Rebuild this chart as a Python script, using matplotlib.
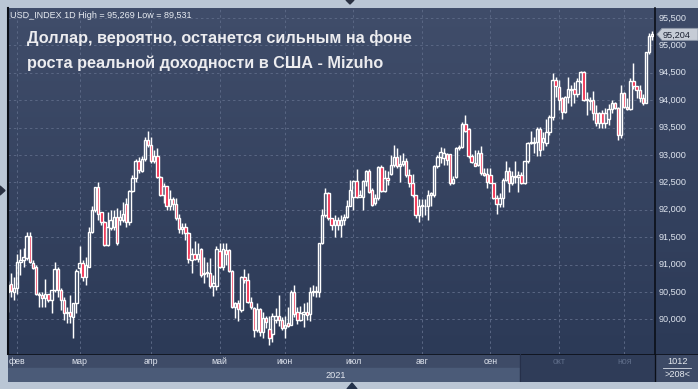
import numpy as np
import pandas as pd
import matplotlib
matplotlib.use("Agg")
import matplotlib.pyplot as plt
from matplotlib.patches import Rectangle, Polygon
from matplotlib.colors import LinearSegmentedColormap

# ---------------- data ----------------
dates = pd.bdate_range("2021-01-27", periods=208)

opens = [90.49, 90.64, 90.49, 90.57, 91.05, 91.09, 91.11, 91.52, 91.03, 90.96,
         90.47, 90.44, 90.38, 90.46, 90.35, 90.54, 90.91, 90.54, 90.35, 90.11,
         90.14, 90.05, 90.29, 90.93, 91.03, 90.78, 90.96, 91.60, 92.00, 92.41,
         91.96, 91.78, 91.36, 91.66, 91.69, 91.87, 91.81, 91.81, 92.10, 91.78,
         92.34, 92.57, 92.88, 92.71, 92.92, 93.28, 93.18, 92.88, 92.98, 92.59,
         92.27, 92.43, 92.06, 92.19, 92.10, 91.84, 91.65, 91.69, 91.57, 91.08,
         91.19, 91.10, 91.28, 90.82, 90.84, 90.85, 90.61, 90.61, 91.25, 90.96,
         91.26, 91.26, 90.88, 90.22, 90.29, 90.17, 90.78, 90.72, 90.32, 90.20,
         89.80, 90.18, 89.76, 90.02, 89.82, 89.74, 89.99, 90.06, 89.99, 89.84,
         89.93, 89.90, 90.49, 90.14, 89.99, 90.10, 90.14, 90.10, 90.49, 90.52,
         90.50, 91.39, 91.90, 92.30, 91.84, 91.72, 91.81, 91.72, 91.81, 91.87,
         92.07, 92.24, 92.52, 92.24, 92.24, 92.52, 92.71, 92.36, 92.12, 92.21,
         92.78, 92.35, 92.57, 92.66, 92.81, 92.97, 92.79, 92.83, 92.89, 92.63,
         92.48, 92.27, 91.90, 92.06, 92.07, 92.06, 92.27, 92.27, 92.79, 92.97,
         92.95, 93.01, 93.01, 92.48, 92.59, 93.12, 93.14, 93.56, 93.48, 92.98,
         92.86, 92.82, 93.04, 92.67, 92.65, 92.63, 92.49, 92.21, 92.10, 92.21,
         92.54, 92.70, 92.49, 92.61, 92.59, 92.63, 92.48, 92.88, 93.22, 93.24,
         93.24, 93.47, 93.24, 93.21, 93.42, 93.70, 94.37, 94.23, 94.03, 93.79,
         94.05, 94.21, 94.21, 94.12, 94.35, 94.52, 94.01, 93.99, 94.00, 93.76,
         93.58, 93.76, 93.59, 93.66, 93.83, 93.94, 93.85, 93.36, 94.13, 93.87,
         93.83, 94.34, 94.25, 94.19, 94.03, 93.94, 94.87, 95.17]

highs = [90.70, 90.84, 90.78, 91.20, 91.28, 91.30, 91.59, 91.59, 91.09, 90.99,
         90.49, 90.50, 90.73, 90.47, 90.54, 91.05, 90.96, 90.57, 90.40, 90.23,
         90.44, 90.29, 90.91, 91.33, 91.08, 91.14, 91.69, 92.06, 92.41, 92.50,
         91.96, 91.80, 91.96, 91.99, 92.00, 92.03, 91.99, 92.14, 92.21, 92.36,
         92.63, 92.92, 92.96, 92.98, 93.33, 93.44, 93.33, 93.09, 93.12, 92.61,
         92.48, 92.43, 92.36, 92.24, 92.21, 91.93, 91.75, 91.75, 91.60, 91.30,
         91.43, 91.39, 91.30, 91.14, 91.05, 91.12, 90.81, 91.33, 91.39, 91.39,
         91.40, 91.28, 90.90, 90.32, 90.35, 90.79, 90.91, 90.84, 90.41, 90.23,
         90.29, 90.20, 90.14, 90.06, 90.06, 90.11, 90.20, 90.44, 90.04, 90.06,
         90.23, 90.54, 90.63, 90.23, 90.24, 90.29, 90.32, 90.59, 90.62, 90.61,
         91.40, 92.02, 92.39, 92.33, 91.84, 91.90, 91.87, 91.90, 91.93, 92.18,
         92.54, 92.54, 92.75, 92.36, 92.55, 92.73, 92.75, 92.39, 92.29, 92.80,
         92.82, 92.72, 92.70, 92.99, 93.18, 93.12, 92.99, 93.03, 92.94, 92.75,
         92.66, 92.27, 92.19, 92.19, 92.19, 92.36, 92.33, 92.82, 93.00, 93.15,
         93.12, 93.03, 93.01, 92.62, 93.15, 93.18, 93.60, 93.72, 93.49, 93.01,
         93.09, 93.09, 93.16, 92.76, 92.76, 92.77, 92.49, 92.27, 92.30, 92.57,
         92.88, 92.78, 92.70, 92.88, 92.71, 92.69, 92.88, 93.24, 93.44, 93.33,
         93.51, 93.51, 93.42, 93.66, 93.73, 94.49, 94.42, 94.37, 94.06, 94.08,
         94.43, 94.27, 94.33, 94.40, 94.54, 94.53, 94.15, 94.06, 94.16, 93.91,
         93.79, 93.82, 93.85, 93.92, 94.00, 93.97, 93.88, 94.27, 94.15, 94.03,
         94.40, 94.67, 94.26, 94.27, 94.12, 94.88, 95.22, 95.27]

lows = [90.14, 90.40, 90.35, 90.46, 90.81, 90.96, 91.08, 91.03, 90.91, 90.44,
        90.23, 90.23, 90.23, 90.32, 90.11, 90.50, 90.41, 90.17, 89.99, 89.93,
        89.93, 89.65, 90.11, 90.84, 90.69, 90.63, 90.96, 91.57, 91.96, 91.81,
        91.72, 91.34, 91.33, 91.63, 91.63, 91.36, 91.72, 91.78, 91.69, 91.72,
        92.33, 92.51, 92.67, 92.69, 92.88, 93.15, 92.86, 92.86, 92.57, 92.25,
        92.12, 92.00, 92.00, 92.00, 91.81, 91.57, 91.55, 91.45, 91.02, 90.84,
        91.08, 91.05, 90.78, 90.66, 90.78, 90.57, 90.43, 90.54, 90.93, 90.90,
        91.00, 90.86, 90.20, 90.02, 89.96, 90.14, 90.66, 90.29, 90.18, 89.68,
        89.76, 89.69, 89.65, 89.85, 89.53, 89.59, 89.93, 89.88, 89.80, 89.65,
        89.86, 89.90, 90.05, 89.91, 89.97, 89.86, 89.99, 89.96, 90.43, 90.41,
        90.41, 91.37, 91.87, 91.81, 91.63, 91.51, 91.63, 91.51, 91.72, 91.85,
        92.06, 92.00, 92.21, 92.24, 92.00, 92.43, 92.30, 92.07, 92.09, 92.18,
        92.33, 92.33, 92.45, 92.63, 92.78, 92.77, 92.50, 92.79, 92.60, 92.42,
        92.24, 91.84, 91.78, 91.87, 91.90, 91.82, 92.06, 92.24, 92.76, 92.85,
        92.82, 92.82, 92.45, 92.46, 92.57, 93.09, 93.12, 93.42, 92.94, 92.85,
        92.79, 92.79, 92.64, 92.61, 92.39, 92.48, 92.19, 91.93, 92.05, 92.05,
        92.53, 92.33, 92.45, 92.48, 92.32, 92.46, 92.46, 92.85, 93.19, 93.03,
        92.98, 92.98, 93.09, 93.16, 93.36, 93.64, 94.06, 93.82, 93.66, 93.76,
        93.94, 93.90, 93.94, 94.06, 94.31, 93.99, 93.73, 93.82, 93.64, 93.52,
        93.49, 93.49, 93.49, 93.55, 93.76, 93.83, 93.27, 93.30, 93.85, 93.82,
        93.82, 94.20, 94.03, 93.97, 93.91, 93.94, 94.85, 95.10]

closes = [90.62, 90.52, 90.57, 91.05, 91.09, 91.14, 91.52, 91.05, 90.93, 90.47,
          90.44, 90.38, 90.46, 90.35, 90.54, 90.91, 90.54, 90.35, 90.11, 90.14,
          90.06, 90.29, 90.89, 91.03, 90.78, 90.99, 91.60, 92.00, 92.41, 91.93,
          91.78, 91.36, 91.69, 91.81, 91.87, 91.40, 91.87, 91.93, 91.78, 92.34,
          92.57, 92.88, 92.73, 92.92, 93.28, 93.18, 92.88, 92.98, 92.59, 92.27,
          92.43, 92.06, 92.19, 92.10, 91.84, 91.65, 91.69, 91.57, 91.10, 91.19,
          91.10, 91.19, 90.81, 90.85, 90.87, 90.61, 90.66, 91.28, 90.96, 91.28,
          91.20, 90.88, 90.22, 90.30, 90.18, 90.78, 90.72, 90.32, 90.22, 89.80,
          90.18, 89.76, 90.02, 89.95, 89.66, 90.06, 90.06, 89.99, 89.84, 89.90,
          89.88, 90.49, 90.10, 89.99, 90.11, 90.14, 90.08, 90.50, 90.52, 90.49,
          91.39, 91.90, 92.30, 91.84, 91.72, 91.81, 91.72, 91.82, 91.87, 92.07,
          92.36, 92.52, 92.24, 92.27, 92.52, 92.71, 92.33, 92.09, 92.21, 92.78,
          92.35, 92.57, 92.55, 92.81, 92.97, 92.79, 92.83, 92.89, 92.63, 92.48,
          92.27, 91.90, 92.07, 92.09, 92.06, 92.27, 92.30, 92.79, 92.97, 93.06,
          93.04, 92.91, 92.48, 92.56, 93.12, 93.14, 93.56, 93.43, 92.98, 92.87,
          92.80, 93.04, 92.67, 92.63, 92.51, 92.49, 92.21, 92.10, 92.21, 92.54,
          92.70, 92.49, 92.61, 92.59, 92.63, 92.48, 92.88, 93.22, 93.24, 93.21,
          93.47, 93.09, 93.30, 93.42, 93.70, 94.37, 94.25, 94.00, 93.79, 94.05,
          94.21, 94.18, 94.12, 94.35, 94.52, 94.01, 94.00, 94.01, 93.76, 93.58,
          93.76, 93.59, 93.76, 93.83, 93.94, 93.85, 93.36, 94.13, 93.87, 93.83,
          94.34, 94.25, 94.19, 94.03, 93.94, 94.87, 95.17, 95.20]

month_labels = ["фев", "мар", "апр", "май", "июн", "июл", "авг", "сен", "окт", "ноя"]
dim_months = ["окт", "ноя"]
price_ticks = [90.0, 90.5, 91.0, 91.5, 92.0, 92.5, 93.0, 93.5, 94.0, 94.5, 95.0, 95.5]
header = "USD_INDEX 1D High = 95,269 Low = 89,531"
title_lines = ["Доллар, вероятно, останется сильным на фоне",
               "роста реальной доходности в США - Mizuho"]
last_label = "95,204"
year_label = "2021"
corner_top, corner_bottom = "1012", ">208<"

# ---------------- layout helpers ----------------
W, H = 698, 389
fig = plt.figure(figsize=(W / 100, H / 100), dpi=100)
fig.patch.set_facecolor("#bac6d5")
plt.rcParams["font.family"] = ["Liberation Sans", "DejaVu Sans"]


def fr(x0, y0, x1, y1):
    return [x0 / W, 1 - y1 / H, (x1 - x0) / W, (y1 - y0) / H]


def gradient_axes(rect, top, bottom, z=0):
    a = fig.add_axes(rect, zorder=z)
    cmap = LinearSegmentedColormap.from_list("g", [bottom, top])
    a.imshow(np.linspace(0, 1, 256).reshape(-1, 1)[::-1], aspect="auto",
             cmap=cmap, extent=[0, 1, 0, 1])
    a.set_xlim(0, 1)
    a.set_ylim(0, 1)
    a.axis("off")
    return a


PL, PT, PR, PB = 8, 8, 655, 354
# right axis panel
gradient_axes(fr(PR, PT, W, PB), "#3e4b68", "#2c3a57", z=0)
# bottom axis panels
bot = fig.add_axes(fr(PL, PB, W, 382), zorder=0)
bot.set_xlim(PL, W)
bot.set_ylim(382, PB)
bot.axis("off")
bot.add_patch(Rectangle((PL, PB), 520 - PL, 14, color="#3e4b67"))
bot.add_patch(Rectangle((PL, PB + 14), 520 - PL, 14, color="#4b5b78"))
bot.add_patch(Rectangle((520, PB), PR - 520, 28, color="#2f3c58"))
bot.add_patch(Rectangle((PR, PB), W - PR, 28, color="#3d4a66"))
bot.plot([PL, W], [PB + 0.5, PB + 0.5], color="#0b0f18", lw=1.2)
bot.plot([PR, PR], [PB, 382], color="#0b0f18", lw=1.0)
bot.plot([520, 520], [PB, 382], color="#26304a", lw=0.8)
bot.plot([663, 691], [368, 368], color="#d8dee8", lw=0.6)
bot.text((PR + W) / 2 + 1, 361.5, corner_top, color="#e6eaf0", fontsize=6.6,
         ha="center", va="center")
bot.text((PR + W) / 2 + 1, 374.5, corner_bottom, color="#e6eaf0", fontsize=6.6,
         ha="center", va="center")

# main axes
ax = fig.add_axes(fr(PL, PT, PR, PB), zorder=2)
n = len(closes)
x = np.arange(n)
px_per_bar = 3.112
x0_pix = 7.96
xlim = ((PL - x0_pix) / px_per_bar, (PR - x0_pix) / px_per_bar)


def price_at(y):
    return 90 + (319.3 - y) / 54.8


ylim = (price_at(PB), price_at(PT))
ax.set_xlim(*xlim)
ax.set_ylim(*ylim)
cmap = LinearSegmentedColormap.from_list("bg", ["#2c3a57", "#404d6a"])
ax.imshow(np.linspace(0, 1, 256).reshape(-1, 1)[::-1], aspect="auto", cmap=cmap,
          extent=[xlim[0], xlim[1], ylim[0], ylim[1]], zorder=0)

# month starts from dates
month_pos = [i for i in range(1, n) if dates[i].month != dates[i - 1].month]

for p in price_ticks:
    ax.axhline(p, color="#5a6784", lw=0.7, dashes=(2.5, 3), zorder=1)
for m in month_pos:
    ax.axvline(m, color="#5a6784", lw=0.7, dashes=(2.5, 3), zorder=1)

o = np.array(opens)
h = np.array(highs)
l = np.array(lows)
c = np.array(closes)
top = np.maximum(o, c)
bottom = np.minimum(o, c)
ax.vlines(x, top, h, color="white", lw=1.05, zorder=3)
ax.vlines(x, l, bottom, color="white", lw=1.05, zorder=3)
bw = 0.76
for i in range(n):
    hgt = max(top[i] - bottom[i], 0.012)
    up = c[i] >= o[i]
    ax.add_patch(Rectangle((x[i] - bw / 2, bottom[i]), bw, hgt,
                           facecolor="none" if up else "#f0143a",
                           edgecolor="white", lw=1.0, zorder=4))

for s in ax.spines.values():
    s.set_visible(False)
ax.set_xticks([])
ax.set_yticks([])
ax.plot([xlim[0], xlim[0]], ylim, color="#0b0f18", lw=1.5, zorder=6, clip_on=False)
ax.plot([xlim[1], xlim[1]], ylim, color="#0b0f18", lw=1.2, zorder=6, clip_on=False)

# header and title
fig.text(10 / W, 1 - 16 / H, header, color="#e8ecf2", fontsize=6.5, va="center", ha="left",
         zorder=10)
for k, line in enumerate(title_lines):
    fig.text(27 / W, 1 - (38 + 25 * k) / H, line, color="#ececef", fontsize=11.7,
             fontweight="bold", va="center", ha="left", zorder=10)

# price labels on right panel
for p in price_ticks:
    ypix = 319.3 - (p - 90) * 54.8
    fig.text(659 / W, 1 - ypix / H, f"{p:.3f}".replace(".", ","), color="#dfe5ef",
             fontsize=6.6, va="center", ha="left", zorder=10)

# last price marker
last_y = 319.3 - (closes[-1] - 90) * 54.8
ov = fig.add_axes([0, 0, 1, 1], zorder=11)
ov.set_xlim(0, W)
ov.set_ylim(H, 0)
ov.axis("off")
ov.add_patch(Polygon([(657, last_y), (662, last_y - 6), (698, last_y - 6),
                      (698, last_y + 6), (662, last_y + 6)], closed=True,
                     facecolor="#c6ccd6", edgecolor="#8e98a8", lw=0.6))
ov.text(663, last_y + 0.5, last_label, color="#1c2233", fontsize=6.6, va="center", ha="left")

# month labels in the bottom panel
for m, lab in zip(month_pos, month_labels):
    xp = x0_pix + m * px_per_bar
    col = "#5e6c88" if lab in dim_months else "#dfe4ee"
    ov.text(xp, 361.5, lab, color=col, fontsize=6.3, ha="center", va="center")
ov.text(336, 375, year_label, color="#e3e7ef", fontsize=6.6, ha="center", va="center")

# small navigation triangles
ov.add_patch(Polygon([(0, 186), (5, 190.5), (0, 195)], closed=True, color="#2a3142"))
ov.add_patch(Polygon([(346, 0), (354, 0), (350, 4)], closed=True, color="#2a3142"))
ov.add_patch(Polygon([(347, 389), (357, 389), (352, 383)], closed=True, color="#22304a"))

fig.savefig("out.png", dpi=100, facecolor=fig.get_facecolor())
